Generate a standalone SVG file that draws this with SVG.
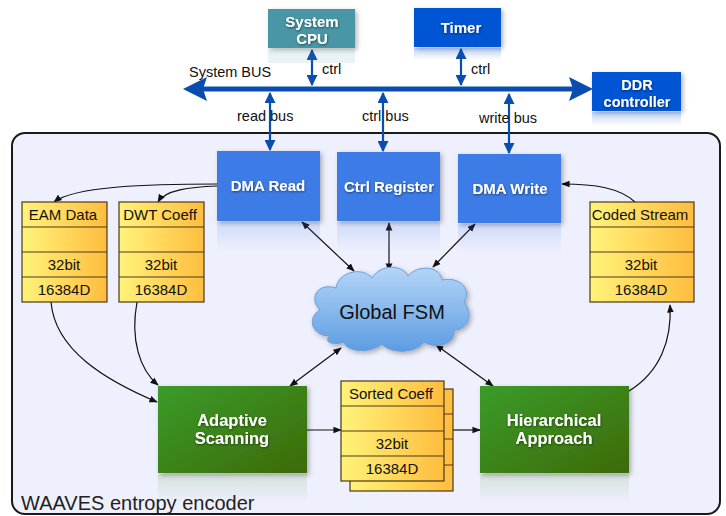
<svg xmlns="http://www.w3.org/2000/svg" width="726" height="516" viewBox="0 0 726 516">
<defs>
<linearGradient id="mem" x1="0" y1="0" x2="1" y2="0">
<stop offset="0" stop-color="#fff37a"/><stop offset="1" stop-color="#ffbd3f"/>
</linearGradient>
<linearGradient id="grn" x1="0" y1="0" x2="1" y2="1">
<stop offset="0" stop-color="#3a9c2a"/><stop offset="1" stop-color="#3d6a08"/>
</linearGradient>
<linearGradient id="cloud" x1="0" y1="0" x2="0" y2="1">
<stop offset="0" stop-color="#b4d5f8"/><stop offset="1" stop-color="#5d9ce2"/>
</linearGradient>
<linearGradient id="reflB" x1="0" y1="0" x2="0" y2="1">
<stop offset="0" stop-color="#3d7be6" stop-opacity="0.18"/><stop offset="1" stop-color="#3d7be6" stop-opacity="0"/>
</linearGradient>
<linearGradient id="reflD" x1="0" y1="0" x2="0" y2="1">
<stop offset="0" stop-color="#0055d4" stop-opacity="0.25"/><stop offset="1" stop-color="#0055d4" stop-opacity="0"/>
</linearGradient>
<linearGradient id="reflG" x1="0" y1="0" x2="0" y2="1">
<stop offset="0" stop-color="#3d8a20" stop-opacity="0.15"/><stop offset="1" stop-color="#3d8a20" stop-opacity="0"/>
</linearGradient>
<filter id="sh" x="-20%" y="-20%" width="150%" height="150%">
<feDropShadow dx="2" dy="2" stdDeviation="2.5" flood-color="#000" flood-opacity="0.3"/>
</filter>
<filter id="ts" x="-10%" y="-30%" width="120%" height="160%">
<feDropShadow dx="0.5" dy="1" stdDeviation="0.8" flood-color="#000" flood-opacity="0.5"/>
</filter>
<marker id="ah" viewBox="0 0 10 10" refX="9" refY="5" markerWidth="7" markerHeight="7" orient="auto-start-reverse">
<path d="M0,1 L10,5 L0,9 Z" fill="#111"/>
</marker>
<marker id="bh" viewBox="0 0 10 10" refX="9" refY="5" markerWidth="5" markerHeight="5" orient="auto-start-reverse">
<path d="M0,0 L10,5 L0,10 Z" fill="#0a4db0"/>
</marker>
<style>
.bt{font-family:"Liberation Sans",Arial,sans-serif;font-weight:bold;fill:#fff;text-anchor:middle}
.mt{font-family:"Liberation Sans",Arial,sans-serif;font-size:15px;fill:#111;text-anchor:middle}
.lb{font-family:"Liberation Sans",Arial,sans-serif;font-size:14.5px;fill:#111}
.mem{fill:url(#mem);stroke:#4a3a1a;stroke-width:1.2}
.ln{stroke:#4a3a1a;stroke-width:1.2}
.blue{fill:#3d7be6}
.dblue{fill:#0055d4}
.c{fill:none;stroke:#111;stroke-width:1.2}
.bv{stroke:#0a4db0;stroke-width:2.2;fill:none}
</style>
</defs>
<rect width="726" height="516" fill="#fff"/>

<g id="container">
<rect x="12" y="133" width="708" height="381" rx="13" fill="#eff0fd" stroke="#1a1a1a" stroke-width="2"/>
<text x="21" y="510" font-family="Liberation Sans,Arial,sans-serif" font-size="20" fill="#222">WAAVES entropy encoder</text>
</g>

<g id="connectors">
<line x1="200" y1="89" x2="576" y2="89" stroke="#0a4db0" stroke-width="5"/>
<path d="M183,89 L207,77 L203,89 L207,101 Z" fill="#0a4db0"/>
<path d="M593,89 L569,77 L573,89 L569,101 Z" fill="#0a4db0"/>
<line x1="312" y1="50" x2="312" y2="85" class="bv" marker-start="url(#bh)" marker-end="url(#bh)"/>
<line x1="461" y1="49" x2="461" y2="85" class="bv" marker-start="url(#bh)" marker-end="url(#bh)"/>
<line x1="270" y1="93" x2="270" y2="150" class="bv" marker-start="url(#bh)" marker-end="url(#bh)"/>
<line x1="383" y1="93" x2="383" y2="151" class="bv" marker-start="url(#bh)" marker-end="url(#bh)"/>
<line x1="509" y1="94" x2="509" y2="153" class="bv" marker-start="url(#bh)" marker-end="url(#bh)"/>
<path class="c" d="M217,184 C150,184 75,186 54,202" marker-end="url(#ah)"/>
<path class="c" d="M217,186 C190,187 165,190 158,202" marker-end="url(#ah)"/>
<path class="c" d="M635,202 C620,188 595,184 562,184" marker-end="url(#ah)"/>
<line class="c" x1="302" y1="222" x2="354" y2="271" marker-start="url(#ah)" marker-end="url(#ah)"/>
<line class="c" x1="389" y1="223" x2="389" y2="271" marker-start="url(#ah)" marker-end="url(#ah)"/>
<line class="c" x1="475" y1="224" x2="433" y2="267" marker-start="url(#ah)" marker-end="url(#ah)"/>
<line class="c" x1="341" y1="348" x2="290" y2="386" marker-start="url(#ah)" marker-end="url(#ah)"/>
<line class="c" x1="436" y1="345" x2="493" y2="386" marker-start="url(#ah)" marker-end="url(#ah)"/>
<path class="c" d="M51,302 C55,350 105,380 157,402" marker-end="url(#ah)"/>
<path class="c" d="M137,302 C130,340 140,370 158,385" marker-end="url(#ah)"/>
<line class="c" x1="307" y1="430" x2="341" y2="430" marker-end="url(#ah)"/>
<line class="c" x1="453" y1="430" x2="480" y2="430" marker-end="url(#ah)"/>
<path class="c" d="M629,391 C660,372 672,340 670,305" marker-end="url(#ah)"/>
<text class="lb" x="189" y="77">System BUS</text>
<text class="lb" x="322" y="74">ctrl</text>
<text class="lb" x="471" y="74">ctrl</text>
<text class="lb" x="237" y="121">read bus</text>
<text class="lb" x="362" y="121">ctrl bus</text>
<text class="lb" x="479" y="123">write bus</text>
</g>

<g id="system-cpu">
<rect x="268" y="9" width="87" height="39" fill="#4a96a6" filter="url(#sh)"/>
<rect x="268" y="49" width="87" height="14" fill="#4a96a6" opacity="0.12"/>
<text class="bt" font-size="15" x="312" y="27" filter="url(#ts)">System</text>
<text class="bt" font-size="15" x="312" y="44" filter="url(#ts)">CPU</text>
</g>
<g id="timer">
<rect x="414" y="8" width="87" height="39" class="dblue" filter="url(#sh)"/>
<rect x="414" y="48" width="87" height="12" fill="url(#reflD)"/>
<text class="bt" font-size="15" x="461" y="33" filter="url(#ts)">Timer</text>
</g>
<g id="ddr-controller">
<rect x="592" y="72" width="89" height="39" class="dblue" filter="url(#sh)"/>
<rect x="592" y="112" width="89" height="14" fill="url(#reflD)"/>
<text class="bt" font-size="14.5" x="637" y="90" filter="url(#ts)">DDR</text>
<text class="bt" font-size="14.5" x="637" y="107" filter="url(#ts)">controller</text>
</g>

<g id="dma-read">
<rect x="217" y="222" width="103" height="30" fill="url(#reflB)"/>
<rect x="217" y="151" width="103" height="70" class="blue" filter="url(#sh)"/>
<text class="bt" font-size="15" x="268" y="191" filter="url(#ts)">DMA Read</text>
</g>
<g id="ctrl-register">
<rect x="337" y="222" width="103" height="30" fill="url(#reflB)"/>
<rect x="337" y="152" width="103" height="69" class="blue" filter="url(#sh)"/>
<text class="bt" font-size="15" x="389" y="192" filter="url(#ts)">Ctrl Register</text>
</g>
<g id="dma-write">
<rect x="458" y="224" width="103" height="30" fill="url(#reflB)"/>
<rect x="458" y="154" width="103" height="69" class="blue" filter="url(#sh)"/>
<text class="bt" font-size="15" x="510" y="194" filter="url(#ts)">DMA Write</text>
</g>

<g id="eam-data">
<rect x="22" y="202" width="85" height="100" class="mem"/>
<line class="ln" x1="22" y1="227" x2="107" y2="227"/>
<line class="ln" x1="22" y1="252" x2="107" y2="252"/>
<line class="ln" x1="22" y1="277" x2="107" y2="277"/>
<text class="mt" x="63" y="220">EAM Data</text>
<text class="mt" x="64" y="270">32bit</text>
<text class="mt" x="64" y="295">16384D</text>
</g>
<g id="dwt-coeff">
<rect x="119" y="202" width="85" height="100" class="mem"/>
<line class="ln" x1="119" y1="227" x2="204" y2="227"/>
<line class="ln" x1="119" y1="252" x2="204" y2="252"/>
<line class="ln" x1="119" y1="277" x2="204" y2="277"/>
<text class="mt" x="160" y="220">DWT Coeff</text>
<text class="mt" x="161" y="270">32bit</text>
<text class="mt" x="161" y="295">16384D</text>
</g>
<g id="coded-stream">
<rect x="590" y="202" width="104" height="100" class="mem"/>
<line class="ln" x1="590" y1="227" x2="694" y2="227"/>
<line class="ln" x1="590" y1="252" x2="694" y2="252"/>
<line class="ln" x1="590" y1="277" x2="694" y2="277"/>
<text class="mt" x="640" y="220">Coded Stream</text>
<text class="mt" x="641" y="270">32bit</text>
<text class="mt" x="641" y="295">16384D</text>
</g>

<g id="global-fsm">
<path d="M330,336 C312,336 306,318 320,310 C308,298 318,282 336,288 C338,272 362,266 372,278 C380,264 402,264 408,276 C418,264 440,266 442,280 C460,276 472,290 464,302 C474,314 468,330 454,330 C456,344 436,350 424,342 C416,354 390,354 382,344 C370,354 346,352 344,342 C334,346 322,342 330,336 Z" fill="url(#cloud)" stroke="#6a9fd8" stroke-width="1" filter="url(#sh)"/>
<text x="392" y="319" font-family="Liberation Sans,Arial,sans-serif" font-size="20" fill="#111" text-anchor="middle">Global FSM</text>
</g>

<g id="adaptive-scanning">
<rect x="158" y="474" width="149" height="30" fill="url(#reflG)"/>
<rect x="158" y="386" width="149" height="87" fill="url(#grn)" filter="url(#sh)"/>
<text class="bt" font-size="16.5" x="232" y="426" filter="url(#ts)">Adaptive</text>
<text class="bt" font-size="16.5" x="232" y="444" filter="url(#ts)">Scanning</text>
</g>
<g id="hierarchical-approach">
<rect x="480" y="474" width="149" height="30" fill="url(#reflG)"/>
<rect x="480" y="386" width="149" height="87" fill="url(#grn)" filter="url(#sh)"/>
<text class="bt" font-size="16.5" x="554" y="426" filter="url(#ts)">Hierarchical</text>
<text class="bt" font-size="16.5" x="554" y="444" filter="url(#ts)">Approach</text>
</g>

<g id="sorted-coeff">
<rect x="350" y="389" width="103" height="102" class="mem"/>
<line class="ln" x1="350" y1="414" x2="453" y2="414"/>
<line class="ln" x1="350" y1="439" x2="453" y2="439"/>
<line class="ln" x1="350" y1="465" x2="453" y2="465"/>
<rect x="341" y="381" width="103" height="100" class="mem"/>
<line class="ln" x1="341" y1="406" x2="444" y2="406"/>
<line class="ln" x1="341" y1="431" x2="444" y2="431"/>
<line class="ln" x1="341" y1="456" x2="444" y2="456"/>
<text class="mt" x="391" y="399">Sorted Coeff</text>
<text class="mt" x="392" y="449">32bit</text>
<text class="mt" x="392" y="474">16384D</text>
</g>
</svg>
